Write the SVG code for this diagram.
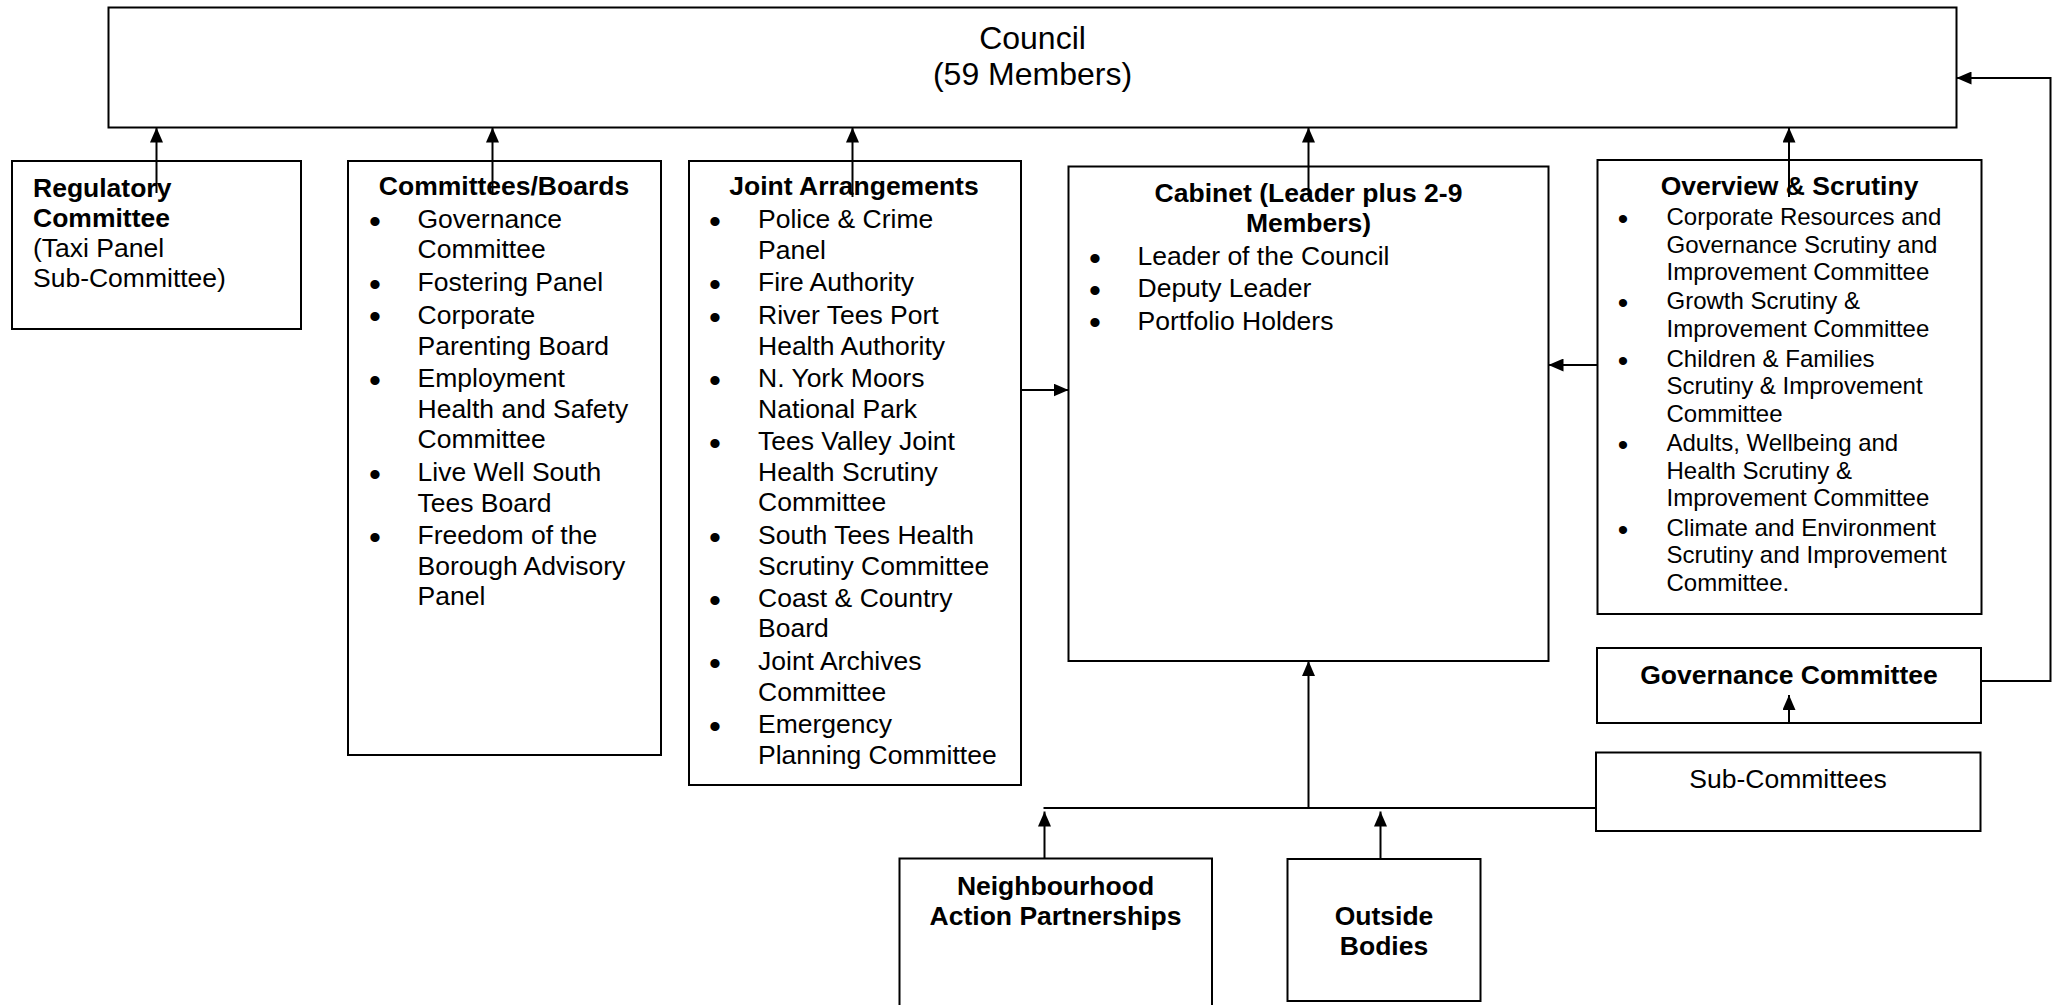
<svg xmlns="http://www.w3.org/2000/svg" width="2052" height="1005" viewBox="0 0 2052 1005">
<style>
.box{fill:#fff;stroke:#000;stroke-width:2}
.t{font-family:"Liberation Sans",Arial,sans-serif;font-size:26.5px;fill:#000}
.b{font-weight:bold}
.c{text-anchor:middle}
.s{font-size:24px}
.big{font-size:32px}
.bu{font-size:34px;text-anchor:middle}
.bs{font-size:30px;text-anchor:middle}
.ln{fill:none;stroke:#000;stroke-width:2}
</style>
<defs>
<marker id="ah" viewBox="0 0 15 13" refX="15" refY="6.5" markerWidth="15" markerHeight="13" markerUnits="userSpaceOnUse" orient="auto">
<path d="M0,0 L15,6.5 L0,13 z" fill="#000"/>
</marker>
</defs>
<rect width="2052" height="1005" fill="#fff"/>

<g id="council">
<rect class="box" x="108.5" y="7.5" width="1848" height="120"/>
<text class="t big c" x="1032.5" y="48.5">Council</text>
<text class="t big c" x="1032.5" y="84.5">(59 Members)</text>
</g>

<g id="regulatory">
<rect class="box" x="12" y="161" width="289" height="168"/>
<text class="t b" x="33" y="197">Regulatory</text>
<text class="t b" x="33" y="227">Committee</text>
<text class="t" x="33" y="257">(Taxi Panel</text>
<text class="t" x="33" y="287">Sub-Committee)</text>
</g>

<g id="committees">
<rect class="box" x="348" y="161" width="313" height="594"/>
<text class="t b c" x="504" y="195">Committees/Boards</text>
<g class="t">
<text class="bu" x="375" y="228" dy="4.5">•</text>
<text x="417.5" y="228">Governance</text>
<text x="417.5" y="258.3">Committee</text>
<text class="bu" x="375" y="291" dy="4.5">•</text>
<text x="417.5" y="291">Fostering Panel</text>
<text class="bu" x="375" y="323.5" dy="4.5">•</text>
<text x="417.5" y="323.5">Corporate</text>
<text x="417.5" y="354.5">Parenting Board</text>
<text class="bu" x="375" y="387" dy="4.5">•</text>
<text x="417.5" y="387">Employment</text>
<text x="417.5" y="417.5">Health and Safety</text>
<text x="417.5" y="447.8">Committee</text>
<text class="bu" x="375" y="481" dy="4.5">•</text>
<text x="417.5" y="481">Live Well South</text>
<text x="417.5" y="511.5">Tees Board</text>
<text class="bu" x="375" y="544" dy="4.5">•</text>
<text x="417.5" y="544">Freedom of the</text>
<text x="417.5" y="574.5">Borough Advisory</text>
<text x="417.5" y="605">Panel</text>
</g>
</g>

<g id="joint">
<rect class="box" x="689" y="161" width="332" height="624"/>
<text class="t b c" x="854" y="195">Joint Arrangements</text>
<g class="t">
<text class="bu" x="715" y="228" dy="4.5">•</text>
<text x="758" y="228">Police &amp; Crime</text>
<text x="758" y="258.5">Panel</text>
<text class="bu" x="715" y="291" dy="4.5">•</text>
<text x="758" y="291">Fire Authority</text>
<text class="bu" x="715" y="324" dy="4.5">•</text>
<text x="758" y="324">River Tees Port</text>
<text x="758" y="354.5">Health Authority</text>
<text class="bu" x="715" y="387" dy="4.5">•</text>
<text x="758" y="387">N. York Moors</text>
<text x="758" y="417.5">National Park</text>
<text class="bu" x="715" y="450.3" dy="4.5">•</text>
<text x="758" y="450.3">Tees Valley Joint</text>
<text x="758" y="480.7">Health Scrutiny</text>
<text x="758" y="511">Committee</text>
<text class="bu" x="715" y="544.3" dy="4.5">•</text>
<text x="758" y="544.3">South Tees Health</text>
<text x="758" y="574.6">Scrutiny Committee</text>
<text class="bu" x="715" y="607" dy="4.5">•</text>
<text x="758" y="607">Coast &amp; Country</text>
<text x="758" y="637.3">Board</text>
<text class="bu" x="715" y="670.2" dy="4.5">•</text>
<text x="758" y="670.2">Joint Archives</text>
<text x="758" y="700.6">Committee</text>
<text class="bu" x="715" y="733.4" dy="4.5">•</text>
<text x="758" y="733.4">Emergency</text>
<text x="758" y="763.6">Planning Committee</text>
</g>
</g>

<g id="cabinet">
<rect class="box" x="1068.5" y="166.5" width="480" height="494.5"/>
<text class="t b c" x="1308.5" y="202">Cabinet (Leader plus 2-9</text>
<text class="t b c" x="1308.5" y="232">Members)</text>
<g class="t">
<text class="bu" x="1095" y="265" dy="4.5">•</text>
<text x="1137.5" y="265">Leader of the Council</text>
<text class="bu" x="1095" y="297.3" dy="4.5">•</text>
<text x="1137.5" y="297.3">Deputy Leader</text>
<text class="bu" x="1095" y="329.6" dy="4.5">•</text>
<text x="1137.5" y="329.6">Portfolio Holders</text>
</g>
</g>

<g id="overview">
<rect class="box" x="1597.5" y="160" width="384" height="454"/>
<text class="t b c" x="1789.5" y="195">Overview &amp; Scrutiny</text>
<g class="t s">
<text class="bs" x="1623" y="225" dy="4">•</text>
<text x="1666.5" y="225">Corporate Resources and</text>
<text x="1666.5" y="252.5">Governance Scrutiny and</text>
<text x="1666.5" y="280">Improvement Committee</text>
<text class="bs" x="1623" y="309" dy="4">•</text>
<text x="1666.5" y="309">Growth Scrutiny &amp;</text>
<text x="1666.5" y="336.5">Improvement Committee</text>
<text class="bs" x="1623" y="366.5" dy="4">•</text>
<text x="1666.5" y="366.5">Children &amp; Families</text>
<text x="1666.5" y="394">Scrutiny &amp; Improvement</text>
<text x="1666.5" y="421.5">Committee</text>
<text class="bs" x="1623" y="451" dy="4">•</text>
<text x="1666.5" y="451">Adults, Wellbeing and</text>
<text x="1666.5" y="478.5">Health Scrutiny &amp;</text>
<text x="1666.5" y="506">Improvement Committee</text>
<text class="bs" x="1623" y="535.5" dy="4">•</text>
<text x="1666.5" y="535.5">Climate and Environment</text>
<text x="1666.5" y="563">Scrutiny and Improvement</text>
<text x="1666.5" y="590.5">Committee.</text>
</g>
</g>

<g id="governance">
<rect class="box" x="1597" y="648" width="384" height="75"/>
<text class="t b c" x="1789" y="684">Governance Committee</text>
</g>

<g id="subcommittees">
<rect class="box" x="1596" y="752.5" width="384.5" height="78.5"/>
<text class="t c" x="1788" y="788">Sub-Committees</text>
</g>

<g id="nap">
<rect class="box" x="899.5" y="858.5" width="312.5" height="170"/>
<text class="t b c" x="1055.5" y="895">Neighbourhood</text>
<text class="t b c" x="1055.5" y="925">Action Partnerships</text>
</g>

<g id="outside">
<rect class="box" x="1287.5" y="859" width="193" height="142"/>
<text class="t b c" x="1384" y="925">Outside</text>
<text class="t b c" x="1384" y="955">Bodies</text>
</g>

<g id="connectors">
<line class="ln" x1="156.5" y1="193" x2="156.5" y2="127.5" marker-end="url(#ah)"/>
<line class="ln" x1="492.5" y1="193" x2="492.5" y2="127.5" marker-end="url(#ah)"/>
<line class="ln" x1="852.5" y1="197" x2="852.5" y2="127.5" marker-end="url(#ah)"/>
<line class="ln" x1="1308.5" y1="197" x2="1308.5" y2="127.5" marker-end="url(#ah)"/>
<line class="ln" x1="1789" y1="197" x2="1789" y2="127.5" marker-end="url(#ah)"/>
<line class="ln" x1="1021" y1="390" x2="1068.5" y2="390" marker-end="url(#ah)"/>
<line class="ln" x1="1597.5" y1="365" x2="1548.5" y2="365" marker-end="url(#ah)"/>
<polyline class="ln" points="1981,681 2050.5,681 2050.5,78 1956.5,78" marker-end="url(#ah)"/>
<line class="ln" x1="1789" y1="723" x2="1789" y2="695" marker-end="url(#ah)"/>
<line class="ln" x1="1596" y1="808" x2="1043.5" y2="808"/>
<line class="ln" x1="1308.5" y1="808" x2="1308.5" y2="661" marker-end="url(#ah)"/>
<line class="ln" x1="1044.5" y1="858.5" x2="1044.5" y2="811.5" marker-end="url(#ah)"/>
<line class="ln" x1="1380.5" y1="859" x2="1380.5" y2="811.5" marker-end="url(#ah)"/>
</g>
</svg>
